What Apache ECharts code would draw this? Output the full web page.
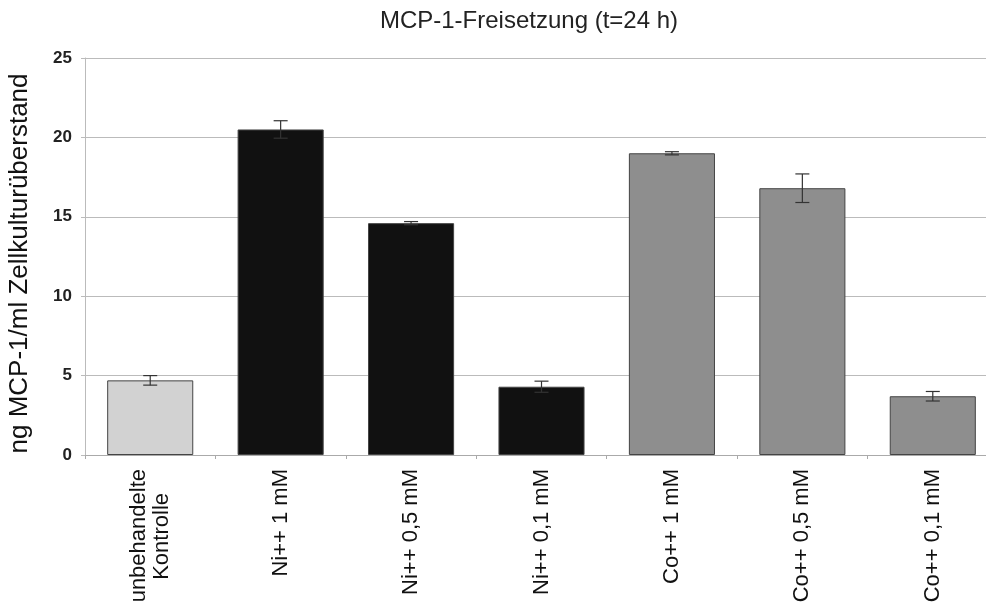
<!DOCTYPE html>
<html><head><meta charset="utf-8">
<script src="https://cdn.jsdelivr.net/npm/echarts@6/dist/echarts.min.js"></script>
<style>html,body{margin:0;padding:0;background:#fff}#c{width:986px;height:608px}</style>
</head><body><div id="c"></div>
<script>
const categories = ['unbehandelte\nKontrolle','Ni++ 1 mM','Ni++ 0,5 mM','Ni++ 0,1 mM','Co++ 1 mM','Co++ 0,5 mM','Co++ 0,1 mM'];
const values = [4.7, 20.5, 14.6, 4.3, 19.0, 16.8, 3.7];
const errors = [0.3, 0.55, 0.1, 0.35, 0.1, 0.9, 0.3];
const barColors = ['#d2d2d2','#111111','#111111','#111111','#8e8e8e','#8e8e8e','#8e8e8e'];
const yTicks = [0,5,10,15,20,25];

const chart = echarts.init(document.getElementById('c'));
chart.setOption({
  animation:false,
  title:{text:'MCP-1-Freisetzung (t=24 h)',left:524,top:4,textAlign:'center',
    textStyle:{fontFamily:'Liberation Sans, Arial',fontSize:24,fontWeight:'normal',color:'#222'}},
  grid:{left:85,top:58,width:913,height:397,outerBoundsMode:'none',containLabel:false},
  xAxis:{type:'category',data:categories,
    axisLine:{lineStyle:{color:'#aaa'}},
    axisTick:{show:true,length:4,lineStyle:{color:'#aaa'}},
    axisLabel:{rotate:90,margin:14,interval:0,fontFamily:'Liberation Sans, Arial',fontSize:22,color:'#111',lineHeight:23,
      formatter:function(v){
        const parts=v.split('\n');
        if(parts.length<2) return v;
        return parts[0]+'\n'+parts[1]+'{s|x}';
      },
      rich:{
        s:{fontFamily:'Liberation Sans, Arial',fontSize:22,lineHeight:23,color:'rgba(0,0,0,0)',width:24}
      }},
  },
  yAxis:{type:'value',min:0,max:25,interval:5,
    name:'ng MCP-1/ml Zellkulturüberstand',nameLocation:'middle',nameGap:52,nameRotate:90,
    nameTextStyle:{fontFamily:'Liberation Sans, Arial',fontSize:26,color:'#111',padding:[0,14,0,0]},
    axisLine:{show:true,lineStyle:{color:'#bbb'}},
    axisTick:{show:true,length:4,lineStyle:{color:'#bbb'}},
    axisLabel:{margin:13,fontFamily:'Liberation Sans, Arial',fontSize:17,fontWeight:'bold',color:'#222',
      formatter:v=>yTicks.includes(v)?String(v):''},
    splitLine:{lineStyle:{color:'#bbb',width:1}}},
  series:[
    {type:'bar',barWidth:'66%',
     data:values.map((v,i)=>({value:v,itemStyle:{color:barColors[i],borderColor:'#444',borderWidth:1}}))},
    {type:'custom',z:5,
     data:values.map((v,i)=>[i,v,errors[i]]),
     renderItem:function(params,api){
       const x=api.value(0),v=api.value(1),e=api.value(2);
       const top=api.coord([x,v+e]),bot=api.coord([x,v-e]);
       const hw=7;
       const st={stroke:'#333',lineWidth:1.2};
       return {type:'group',children:[
         {type:'line',shape:{x1:top[0],y1:top[1],x2:bot[0],y2:bot[1]},style:st},
         {type:'line',shape:{x1:top[0]-hw,y1:top[1],x2:top[0]+hw,y2:top[1]},style:st},
         {type:'line',shape:{x1:bot[0]-hw,y1:bot[1],x2:bot[0]+hw,y2:bot[1]},style:st}
       ]};
     }}
  ]
});
</script></body></html>
